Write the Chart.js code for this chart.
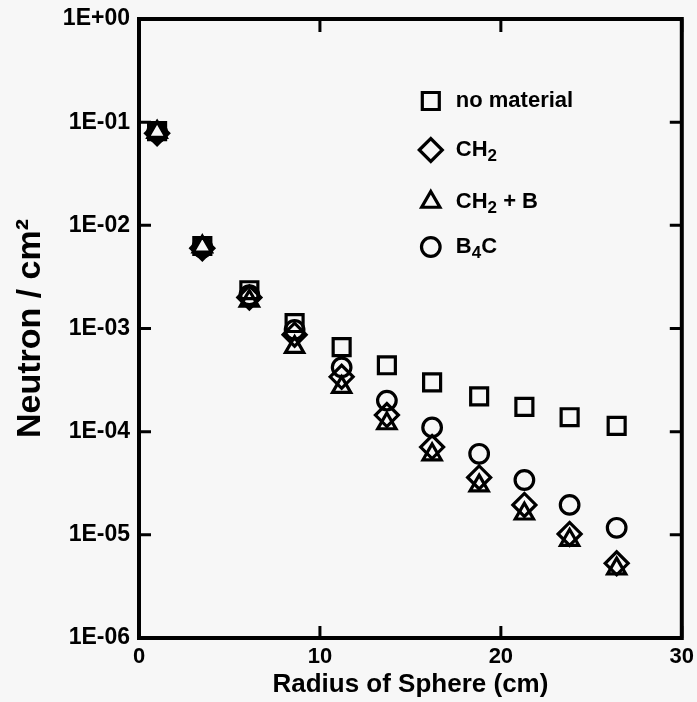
<!DOCTYPE html>
<html>
<head>
<meta charset="utf-8">
<script src="https://cdn.jsdelivr.net/npm/chart.js@4.4.1/dist/chart.umd.min.js"></script>
<style>
  html, body { margin: 0; padding: 0; background: #f7f7f7; }
  #wrap { width: 697px; height: 702px; }
</style>
</head>
<body>
<div id="wrap"><canvas id="chart"></canvas></div>
<script>
// radius of sphere (cm)
const radius = [1.0, 3.5, 6.1, 8.6, 11.2, 13.7, 16.2, 18.8, 21.3, 23.8, 26.4];
// neutron / cm2 for each case
const noMaterial = [0.082, 6.3e-3, 2.35e-3, 1.13e-3, 6.6e-4, 4.4e-4, 3.0e-4, 2.2e-4, 1.74e-4, 1.38e-4, 1.14e-4];
const ch2 = [0.078, 6.0e-3, 2.0e-3, 8.7e-4, 3.4e-4, 1.45e-4, 7.1e-5, 3.6e-5, 1.95e-5, 1.02e-5, 5.3e-6];
const ch2b = [0.08, 6.2e-3, 1.85e-3, 6.6e-4, 2.7e-4, 1.2e-4, 6.0e-5, 3.0e-5, 1.6e-5, 8.9e-6, 4.7e-6];
const b4c = [0.08, 6.1e-3, 2.1e-3, 9.7e-4, 4.2e-4, 2.0e-4, 1.1e-4, 6.1e-5, 3.4e-5, 1.95e-5, 1.17e-5];

const xTicks = [0, 10, 20, 30];
const yTicks = [1e-6, 1e-5, 1e-4, 1e-3, 1e-2, 1e-1, 1];
const yTickLabels = ['1E-06', '1E-05', '1E-04', '1E-03', '1E-02', '1E-01', '1E+00'];

const FONT = "'Liberation Sans', Arial, Helvetica, sans-serif";

// legend entries: text pieces, second item true = subscript
const legendItems = [
  { style: 'rect', radius: 12, parts: [['no material', false]] },
  { style: 'rectRot', radius: 11.5, parts: [['CH', false], ['2', true]] },
  { style: 'triangle', radius: 10.5, parts: [['CH', false], ['2', true], [' + B', false]] },
  { style: 'circle', radius: 9.3, parts: [['B', false], ['4', true], ['C', false]] }
];

function makeSet(label, values, style, r) {
  return {
    label: label,
    data: radius.map((x, i) => ({ x: x, y: values[i] })),
    pointStyle: style,
    pointRadius: r,
    pointHoverRadius: r,
    pointBorderWidth: 3.2,
    borderColor: '#000',
    backgroundColor: 'rgba(0,0,0,0)',
    showLine: false
  };
}

const bgPlugin = {
  id: 'bg',
  beforeDraw(chart) {
    const ctx = chart.ctx;
    ctx.save();
    ctx.fillStyle = '#f7f7f7';
    ctx.fillRect(0, 0, chart.width, chart.height);
    ctx.restore();
  }
};

// box around the plot with ticks pointing inward on all four sides
const framePlugin = {
  id: 'frame',
  afterDatasetsDraw(chart) {
    const ctx = chart.ctx;
    const { left, right, top, bottom } = chart.chartArea;
    const xs = chart.scales.x, ys = chart.scales.y;
    ctx.save();
    ctx.strokeStyle = '#000';
    ctx.lineWidth = 4;
    ctx.strokeRect(left, top, right - left, bottom - top);
    ctx.lineWidth = 3;
    ctx.beginPath();
    yTicks.forEach(v => {
      const y = ys.getPixelForValue(v);
      ctx.moveTo(left, y); ctx.lineTo(left + 12, y);
      ctx.moveTo(right, y); ctx.lineTo(right - 12, y);
    });
    xTicks.forEach(v => {
      const x = xs.getPixelForValue(v);
      ctx.moveTo(x, top); ctx.lineTo(x, top + 13);
      ctx.moveTo(x, bottom); ctx.lineTo(x, bottom - 12);
    });
    ctx.stroke();
    ctx.restore();
  }
};

const legendPlugin = {
  id: 'inLegend',
  afterDraw(chart) {
    const ctx = chart.ctx;
    const { right, top } = chart.chartArea;
    const mx = right - 251;
    const tx = right - 226;
    const ys = [top + 82, top + 131, top + 183, top + 228];
    ctx.save();
    legendItems.forEach((item, i) => {
      const y = ys[i];
      ctx.strokeStyle = '#000';
      ctx.fillStyle = 'rgba(0,0,0,0)';
      ctx.lineWidth = 3.2;
      Chart.helpers.drawPoint(ctx, { pointStyle: item.style, radius: item.radius, borderWidth: 3.2, rotation: 0 }, mx, y);
      let x = tx;
      ctx.fillStyle = '#000';
      ctx.textBaseline = 'middle';
      ctx.textAlign = 'left';
      item.parts.forEach(([t, sub]) => {
        ctx.font = sub ? 'bold 17px ' + FONT : 'bold 22px ' + FONT;
        ctx.fillText(t, x, sub ? y + 6 : y);
        x += ctx.measureText(t).width;
      });
    });
    ctx.restore();
  }
};

new Chart(document.getElementById('chart'), {
  type: 'scatter',
  data: {
    datasets: [
      makeSet('no material', noMaterial, 'rect', 12),
      makeSet('CH2', ch2, 'rectRot', 11.5),
      makeSet('CH2 + B', ch2b, 'triangle', 10.5),
      makeSet('B4C', b4c, 'circle', 9.3)
    ]
  },
  options: {
    responsive: true,
    maintainAspectRatio: false,
    animation: false,
    layout: { padding: { top: 19, right: 14, left: 0, bottom: 0 } },
    plugins: {
      legend: { display: false },
      tooltip: { enabled: false }
    },
    scales: {
      x: {
        type: 'linear',
        min: 0,
        max: 30,
        grid: { display: false, drawTicks: false, tickLength: 0 },
        border: { display: false },
        afterBuildTicks: s => { s.ticks = xTicks.map(v => ({ value: v })); },
        afterFit: s => { s.height = 64; s.paddingLeft = 0; s.paddingRight = 0; },
        ticks: {
          color: '#000',
          font: { family: FONT, size: 22, weight: 'bold' },
          padding: 6,
          maxRotation: 0
        },
        title: {
          display: true,
          text: 'Radius of Sphere (cm)',
          color: '#000',
          font: { family: FONT, size: 26, weight: 'bold' },
          padding: { top: 0, bottom: 2 }
        }
      },
      y: {
        type: 'logarithmic',
        min: 1e-6,
        max: 1,
        grid: { display: false, drawTicks: false, tickLength: 0 },
        border: { display: false },
        afterBuildTicks: s => { s.ticks = yTicks.map(v => ({ value: v })); },
        afterFit: s => { s.width = 139; s.paddingTop = 0; s.paddingBottom = 0; },
        ticks: {
          color: '#000',
          font: { family: FONT, size: 23, weight: 'bold' },
          padding: 9,
          callback: v => yTickLabels[yTicks.indexOf(v)]
        },
        title: {
          display: true,
          text: 'Neutron / cm²',
          color: '#000',
          font: { family: FONT, size: 34, weight: 'bold' },
          padding: { top: 10, bottom: 0 }
        }
      }
    }
  },
  plugins: [bgPlugin, framePlugin, legendPlugin]
});
</script>
</body>
</html>
